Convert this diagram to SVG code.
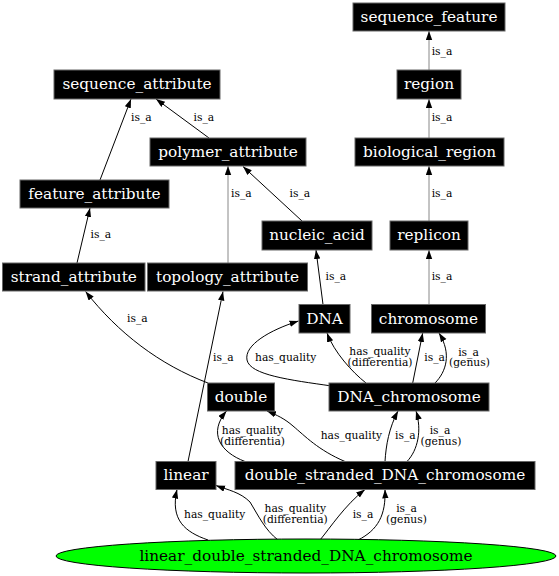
<svg xmlns="http://www.w3.org/2000/svg" width="559" height="576" viewBox="0 0 559 576">
<style>
  .box { fill: #000; stroke: #666; stroke-width: 1; }
  .nt { font-family: "DejaVu Serif", serif; font-size: 15.3px; fill: #fff; text-anchor: middle; }
  .et { font-family: "DejaVu Serif", serif; font-size: 10.7px; fill: #000; }
  .mid { text-anchor: middle; }
  .e { fill: none; stroke: #000; stroke-width: 1; marker-end: url(#arr); }
  .g { stroke: #888; }
</style>
<defs>
  <marker id="arr" markerUnits="userSpaceOnUse" markerWidth="10" markerHeight="8" refX="9" refY="3.2" orient="auto">
    <path d="M0,0 L9,3.2 L0,6.4 Z" fill="#000"/>
  </marker>
</defs>
<rect width="559" height="576" fill="#fff"/>
<g id="connectors">
  <path class="e g" d="M429,70 L429,31"/>
  <path class="e g" d="M429,138 L429,99"/>
  <path class="e g" d="M429,221 L429,166"/>
  <path class="e g" d="M429,304.5 L429,250"/>
  <path class="e" d="M100,180 L131,99"/>
  <path class="e" d="M209,138 L156,99"/>
  <path class="e g" d="M228,263 L228,166"/>
  <path class="e" d="M302,221 L243,166.5"/>
  <path class="e" d="M77,263 L90,208"/>
  <path class="e" d="M323,304.5 L316,250"/>
  <path class="e" d="M208,383 C160,365 118,333 85.6,291.5"/>
  <path class="e" d="M188,461.5 L223,291.5"/>
  <path class="e" d="M331.7,386 C290,380 250,375 247,360 C244,345 270,330 298.5,321"/>
  <path class="e" d="M366,383 C352,372 334,352 327,333"/>
  <path class="e" d="M412.7,383 L422.7,333"/>
  <path class="e" d="M435,383 C446,372 452,354 439,333"/>
  <path class="e" d="M245,461.5 C220,452 208,433 226.5,411"/>
  <path class="e" d="M345,461.5 C318,450 305,436 293,426 C285,419 277,415 267,411"/>
  <path class="e" d="M385,461.5 C386,445 389,428 398,411"/>
  <path class="e" d="M407,461.5 C418,450 422,430 416,411"/>
  <path class="e" d="M208,540 C185,532 170,520 177,489.5"/>
  <path class="e" d="M278,540 C265,530 258,515 250,502 C240,492 228,490 216,485.5"/>
  <path class="e" d="M320,540 C330,528 345,505 365,489.5"/>
  <path class="e" d="M358,540 C378,530 386,515 385,489.5"/>
  <text class="et" x="431.7" y="54.5">is_a</text>
  <text class="et" x="431.7" y="121.4">is_a</text>
  <text class="et" x="431.7" y="197">is_a</text>
  <text class="et" x="431.7" y="280">is_a</text>
  <text class="et" x="131" y="121.4">is_a</text>
  <text class="et" x="193.6" y="121.4">is_a</text>
  <text class="et" x="231" y="197">is_a</text>
  <text class="et" x="289.5" y="197">is_a</text>
  <text class="et" x="90.5" y="237.7">is_a</text>
  <text class="et" x="325.5" y="280">is_a</text>
  <text class="et" x="127" y="321.7">is_a</text>
  <text class="et" x="213" y="360.7">is_a</text>
  <text class="et" x="255" y="360.7">has_quality</text>
  <text class="et mid" x="380" y="355.4">has_quality</text>
  <text class="et mid" x="380" y="366.2">(differentia)</text>
  <text class="et" x="424.3" y="361">is_a</text>
  <text class="et mid" x="468.5" y="355.7">is_a</text>
  <text class="et mid" x="469.5" y="366.2">(genus)</text>
  <text class="et mid" x="252.5" y="434.4">has_quality</text>
  <text class="et mid" x="252.5" y="445">(differentia)</text>
  <text class="et" x="320.7" y="438.7">has_quality</text>
  <text class="et" x="395" y="438.7">is_a</text>
  <text class="et mid" x="440" y="434.4">is_a</text>
  <text class="et mid" x="441" y="445">(genus)</text>
  <text class="et" x="184" y="518">has_quality</text>
  <text class="et mid" x="295.3" y="512">has_quality</text>
  <text class="et mid" x="295.3" y="523">(differentia)</text>
  <text class="et" x="352.7" y="518">is_a</text>
  <text class="et mid" x="406.5" y="512">is_a</text>
  <text class="et mid" x="406.5" y="523">(genus)</text>
</g>
<g id="sequence_feature"><rect class="box" x="353" y="3" width="152" height="28"/><text class="nt" x="429" y="21.8">sequence_feature</text></g>
<g id="region"><rect class="box" x="397" y="70" width="64" height="29"/><text class="nt" x="429" y="89.3">region</text></g>
<g id="biological_region"><rect class="box" x="355" y="138" width="149" height="28"/><text class="nt" x="429.5" y="156.8">biological_region</text></g>
<g id="sequence_attribute"><rect class="box" x="54" y="70" width="166" height="29"/><text class="nt" x="137" y="89.3">sequence_attribute</text></g>
<g id="polymer_attribute"><rect class="box" x="150" y="138" width="156" height="28"/><text class="nt" x="228" y="156.8">polymer_attribute</text></g>
<g id="feature_attribute"><rect class="box" x="20" y="180" width="149" height="28"/><text class="nt" x="94.5" y="198.8">feature_attribute</text></g>
<g id="nucleic_acid"><rect class="box" x="262" y="221" width="110" height="29"/><text class="nt" x="317" y="240.3">nucleic_acid</text></g>
<g id="replicon"><rect class="box" x="390" y="221" width="78" height="29"/><text class="nt" x="429" y="240.3">replicon</text></g>
<g id="strand_attribute"><rect class="box" x="2.5" y="263" width="142.5" height="28"/><text class="nt" x="73.75" y="281.8">strand_attribute</text></g>
<g id="topology_attribute"><rect class="box" x="147.5" y="263" width="160" height="28"/><text class="nt" x="227.5" y="281.8">topology_attribute</text></g>
<g id="DNA"><rect class="box" x="299" y="304.5" width="51" height="28.5"/><text class="nt" x="324.5" y="323.5">DNA</text></g>
<g id="chromosome"><rect class="box" x="371.5" y="304.5" width="114" height="28.5"/><text class="nt" x="428.5" y="323.5">chromosome</text></g>
<g id="double"><rect class="box" x="207.5" y="383" width="67" height="28"/><text class="nt" x="241" y="401.8">double</text></g>
<g id="DNA_chromosome"><rect class="box" x="329" y="383" width="160" height="28"/><text class="nt" x="409" y="401.8">DNA_chromosome</text></g>
<g id="linear"><rect class="box" x="156" y="461.5" width="60" height="28"/><text class="nt" x="186" y="480.3">linear</text></g>
<g id="double_stranded_DNA_chromosome"><rect class="box" x="235" y="461.5" width="300" height="28"/><text class="nt" x="385" y="480.3">double_stranded_DNA_chromosome</text></g>
<g id="linear_double_stranded_DNA_chromosome"><ellipse cx="306" cy="556" rx="250" ry="17" fill="#00ff00" stroke="#000" stroke-width="1"/><text class="nt" x="306" y="560.8" style="fill:#000">linear_double_stranded_DNA_chromosome</text></g>
</svg>
